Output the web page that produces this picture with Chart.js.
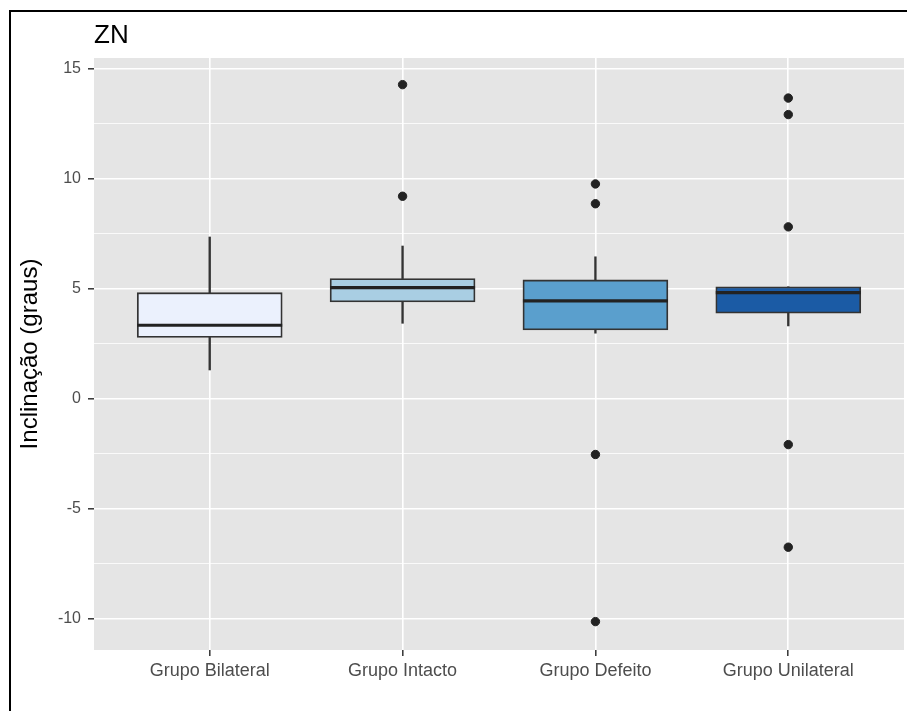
<!DOCTYPE html>
<html lang="pt">
<head>
    <meta charset="UTF-8">
    <title>ZN</title>
    <script src="https://cdn.jsdelivr.net/npm/chart.js"></script>
    <style>
        body {
            margin: 0;
            padding: 0;
            background-color: #fff;
        }
        #chart {
            display: block;
        }
    </style>
</head>
<body>
    <canvas id="chart" width="907" height="711"></canvas>

    <script>
        // Dados (boxplot por grupo)
        const groups = ['Grupo Bilateral', 'Grupo Intacto', 'Grupo Defeito', 'Grupo Unilateral'];
        const whiskerLow = [1.3, 3.42, 2.97, 3.3];
        const q1 = [2.78, 4.39, 3.12, 3.88];
        const median = [3.33, 5.04, 4.44, 4.81];
        const q3 = [4.81, 5.45, 5.39, 5.08];
        const whiskerHigh = [7.34, 6.93, 6.44, 5.08];
        const outliers = [
            [],
            [14.26, 9.19],
            [9.75, 8.85, -2.54, -10.13],
            [13.65, 12.9, 7.8, -2.09, -6.75]
        ];
        const boxColors = ['#EBF1FD', '#A9CEE3', '#5A9FCD', '#1B5BA5'];
        const yTicks = [-10, -7.5, -5, -2.5, 0, 2.5, 5, 7.5, 10, 12.5, 15];

        const xPos = groups.map((g, i) => i + 1);
        const FONT = '"Liberation Sans", Arial, sans-serif';

        // Fundo do painel, moldura e título
        const decor = {
            id: 'decor',
            beforeDraw(chart) {
                const { ctx, chartArea: a } = chart;
                ctx.save();
                ctx.fillStyle = '#E5E5E5';
                ctx.fillRect(a.left, a.top, a.right - a.left, a.bottom - a.top);
                ctx.restore();
            },
            afterDraw(chart) {
                const { ctx, chartArea: a } = chart;
                ctx.save();
                ctx.fillStyle = '#000';
                ctx.fillRect(9, 10, 907 - 9, 2);
                ctx.fillRect(9, 10, 2, 711 - 10);
                ctx.font = '26px ' + FONT;
                ctx.textBaseline = 'alphabetic';
                ctx.textAlign = 'left';
                ctx.fillText('ZN', a.left, 43);
                ctx.restore();
            }
        };

        // sem padding extra calculado pelas escalas
        function noPad(s) {
            s.paddingLeft = 0;
            s.paddingRight = 0;
            s.paddingTop = 0;
            s.paddingBottom = 0;
        }

        const ctx = document.getElementById('chart').getContext('2d');
        new Chart(ctx, {
            data: {
                datasets: [
                    {
                        type: 'scatter',
                        data: outliers.flatMap((vals, i) => vals.map(v => ({ x: xPos[i], y: v }))),
                        backgroundColor: '#222',
                        borderColor: '#222',
                        pointRadius: 4.2,
                        order: 0
                    },
                    {
                        type: 'scatter',
                        data: median.map((m, i) => ({ x: xPos[i], y: m })),
                        pointStyle: 'line',
                        pointRadius: 72.5,
                        borderColor: '#222',
                        borderWidth: 3.2,
                        order: 1
                    },
                    {
                        type: 'bar',
                        data: q1.map((v, i) => ({ x: xPos[i], y: [v, q3[i]] })),
                        backgroundColor: boxColors,
                        borderColor: '#333',
                        borderWidth: 1.8,
                        borderSkipped: false,
                        barThickness: 145,
                        grouped: false,
                        order: 2
                    },
                    {
                        type: 'bar',
                        data: q3.map((v, i) => ({ x: xPos[i], y: [v, whiskerHigh[i]] })),
                        backgroundColor: '#333',
                        borderWidth: 0,
                        barThickness: 1.7,
                        grouped: false,
                        order: 3
                    },
                    {
                        type: 'bar',
                        data: whiskerLow.map((v, i) => ({ x: xPos[i], y: [v, q1[i]] })),
                        backgroundColor: '#333',
                        borderWidth: 0,
                        barThickness: 1.7,
                        grouped: false,
                        order: 3
                    }
                ]
            },
            options: {
                responsive: false,
                animation: false,
                layout: {
                    autoPadding: false,
                    padding: { top: 58, right: 3, left: 0, bottom: 0 }
                },
                plugins: {
                    legend: { display: false },
                    tooltip: { enabled: false }
                },
                scales: {
                    x: {
                        type: 'linear',
                        min: 0.4,
                        max: 4.6,
                        offset: false,
                        afterBuildTicks: s => { s.ticks = xPos.map(v => ({ value: v })); },
                        afterFit: s => { s.height = 61; noPad(s); },
                        border: { display: false },
                        grid: {
                            offset: false,
                            color: '#fff',
                            lineWidth: 1.6,
                            tickLength: 6,
                            tickColor: '#333',
                            tickWidth: 1.5
                        },
                        ticks: {
                            autoSkip: false,
                            maxRotation: 0,
                            padding: 4,
                            color: '#4D4D4D',
                            font: { family: FONT, size: 18 },
                            callback: v => groups[v - 1] || ''
                        }
                    },
                    y: {
                        min: -11.42,
                        max: 15.47,
                        afterBuildTicks: s => { s.ticks = yTicks.map(v => ({ value: v })); },
                        afterFit: s => { s.width = 94; noPad(s); },
                        border: { display: false },
                        grid: {
                            color: '#fff',
                            lineWidth: c => (c.tick && c.tick.value % 5 === 0 ? 1.6 : 0.8),
                            tickLength: 6,
                            tickColor: c => (c.tick && c.tick.value % 5 === 0 ? '#333' : 'rgba(0,0,0,0)'),
                            tickWidth: 1.5
                        },
                        ticks: {
                            padding: 7,
                            color: '#4D4D4D',
                            font: { family: FONT, size: 16 },
                            callback: v => (v % 5 === 0 ? String(v) : '')
                        },
                        title: {
                            display: true,
                            text: 'Inclinação (graus)',
                            color: '#000',
                            font: { family: FONT, size: 24 },
                            padding: { top: 16, bottom: 0 }
                        }
                    }
                }
            },
            plugins: [decor]
        });
    </script>
</body>
</html>
